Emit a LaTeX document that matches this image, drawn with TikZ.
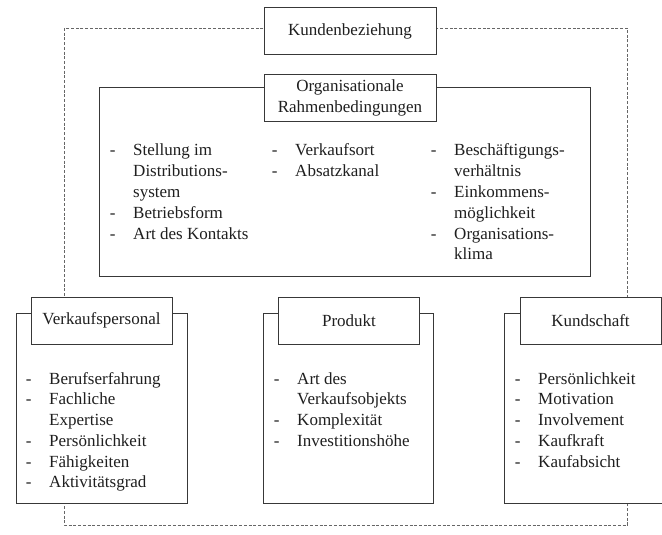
\documentclass[tikz,border=0pt]{standalone}
\usepackage{fontspec}
\setmainfont{Liberation Serif}
\newcommand{\punkte}[1]{\begin{tabular}[t]{@{}p{17.6pt}@{}l@{}}#1\end{tabular}}
\begin{document}
\begin{tikzpicture}[x=.75pt,y=-.75pt,
	txt/.style={font=\fontsize{12.75}{15.6}\selectfont,text=black!88},
	rahmen/.style={draw=black!78,line width=.65pt,fill=white},
	kopf/.style={rahmen,txt,inner sep=0pt,minimum height=35.25pt,align=center,font=\fontsize{12.75}{15.8}\selectfont},
	kopfoben/.style={kopf,minimum width=129pt},
	kopfunten/.style={kopf,minimum width=105.75pt},
	liste/.style={txt,inner sep=0pt,anchor=base west}]
	\useasboundingbox (0,0) rectangle (662,535);
	%KUNDENBEZIEHUNG
	\draw[black!60,line width=.7pt,dash pattern=on 2.25pt off 1.3pt] (64,28) rectangle (627.5,525);
	\node[kopfoben] (kunde) at (350,31) {Kundenbeziehung};
	%ORGANISATION
	\draw[rahmen] (99.5,87) rectangle (590,276);
	\node[kopfoben] (orga) at (350,97.5) {Organisationale\\Rahmenbedingungen};
	\node[liste] (orgaA) at (109.5,156) {\punkte{- & Stellung im\\ & Distributions-\\ & system\\ - & Betriebsform\\ - & Art des Kontakts}};
	\node[liste] (orgaB) at (271.5,156) {\punkte{- & Verkaufsort\\ - & Absatzkanal}};
	\node[liste] (orgaC) at (430.5,156) {\punkte{- & Beschäftigungs-\\ & verhältnis\\ - & Einkommens-\\ & möglichkeit\\ - & Organisations-\\ & klima}};
	%VERKAUFSPERSONAL
	\draw[rahmen] (16,313) rectangle (187,503);
	\node[kopfunten] (verkauf) at (101.5,320.5) {Verkaufspersonal};
	\node[liste] (verkaufL) at (25.5,384) {\punkte{- & Berufserfahrung\\ - & Fachliche\\ & Expertise\\ - & Persönlichkeit\\ - & Fähigkeiten\\ - & Aktivitätsgrad}};
	%PRODUKT
	\draw[rahmen] (263,313) rectangle (433,503);
	\node[kopfunten] (produkt) at (349,320.5) {Produkt};
	\node[liste] (produktL) at (273.5,384) {\punkte{- & Art des\\ & Verkaufsobjekts\\ - & Komplexität\\ - & Investitionshöhe}};
	%KUNDSCHAFT
	\draw[rahmen] (504,313) rectangle (668,503);
	\node[kopfunten] (kundschaft) at (590.5,320.5) {Kundschaft};
	\node[liste] (kundschaftL) at (514.5,384) {\punkte{- & Persönlichkeit\\ - & Motivation\\ - & Involvement\\ - & Kaufkraft\\ - & Kaufabsicht}};
\end{tikzpicture}
\end{document}
